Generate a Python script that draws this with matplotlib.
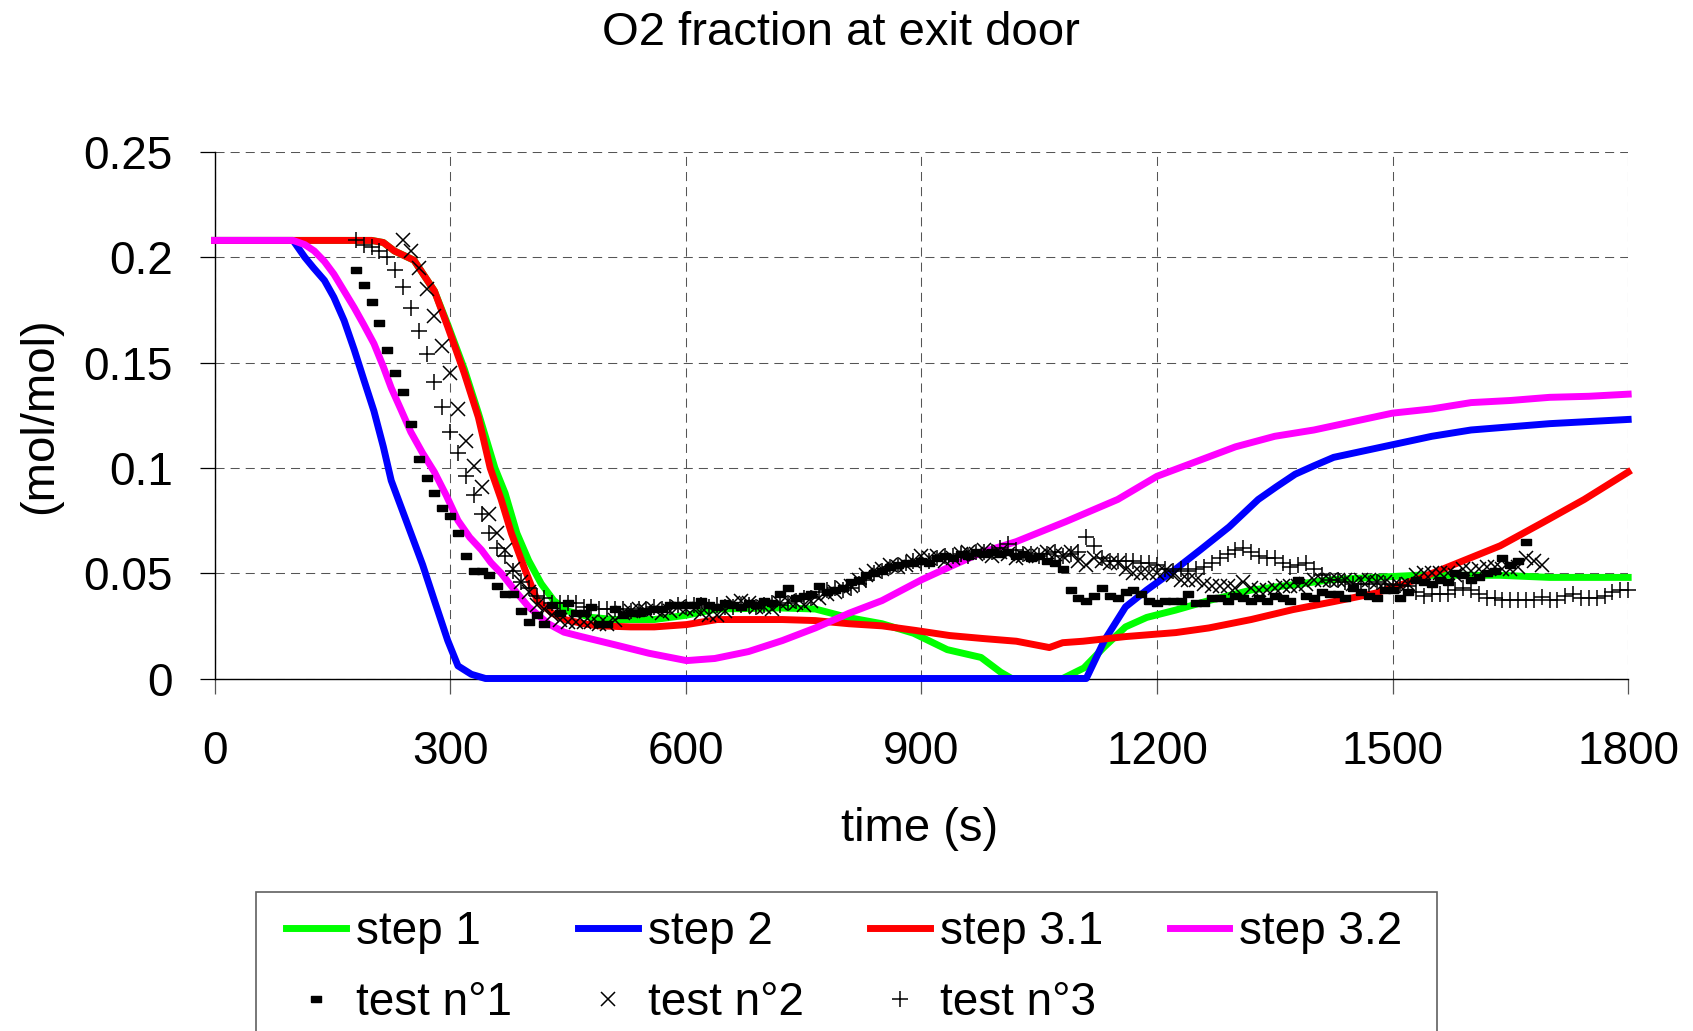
import numpy as np
import matplotlib
matplotlib.use("Agg")
import matplotlib.pyplot as plt
from matplotlib.patches import Rectangle

plt.rcParams['font.family'] = ['Liberation Sans', 'DejaVu Sans']

# --- simulated O2 fraction (mol/mol) for each calculation step ---
step1_t = [0, 100, 200, 215, 229, 254, 280, 297, 318, 336, 357, 370, 385, 400, 416, 432, 450,
           480, 510, 560, 600, 640, 720, 765, 806, 850, 890, 933, 976, 1001, 1015, 1080,
           1107, 1133, 1160, 1187, 1224, 1266, 1320, 1373, 1425, 1478, 1531, 1637, 1700, 1800]
step1_v = [0.208, 0.208, 0.208, 0.207, 0.203, 0.1986, 0.184, 0.168, 0.147, 0.126, 0.100, 0.088,
           0.069, 0.056, 0.045, 0.037, 0.032, 0.029, 0.028, 0.028, 0.030, 0.033, 0.0335,
           0.033, 0.029, 0.026, 0.0215, 0.0137, 0.010, 0.003, 0.0, 0.0, 0.005, 0.015,
           0.0245, 0.029, 0.0325, 0.037, 0.042, 0.0445, 0.047, 0.048, 0.049, 0.049,
           0.048, 0.048]

step2_t = [0, 100, 115, 126, 140, 152, 165, 178, 190, 203, 215, 225, 237, 250, 265, 280,
           297, 310, 327, 345, 1110, 1133, 1160, 1187, 1224, 1255, 1292, 1329, 1352, 1376,
           1400, 1425, 1450, 1500, 1550, 1600, 1700, 1800]
step2_v = [0.208, 0.208, 0.2, 0.195, 0.189, 0.181, 0.170, 0.156, 0.142, 0.127, 0.110,
           0.094, 0.082, 0.069, 0.054, 0.037, 0.018, 0.006, 0.002, 0.0, 0.0, 0.018,
           0.034, 0.042, 0.052, 0.061, 0.072, 0.085, 0.091, 0.097, 0.101, 0.105, 0.107,
           0.111, 0.115, 0.118, 0.121, 0.123]

step31_t = [0, 200, 215, 229, 254, 280, 297, 318, 336, 351, 365, 378, 395, 411, 430, 446,
            470, 489, 530, 560, 601, 640, 680, 723, 765, 808, 850, 893, 936, 978, 1021,
            1063, 1080, 1106, 1160, 1224, 1266, 1320, 1373, 1425, 1478, 1531, 1584, 1637,
            1691, 1744, 1800]
step31_v = [0.208, 0.208, 0.207, 0.203, 0.1986, 0.184, 0.167, 0.145, 0.124, 0.100, 0.085,
            0.069, 0.052, 0.037, 0.031, 0.028, 0.026, 0.025, 0.0245, 0.0245, 0.0256,
            0.028, 0.028, 0.028, 0.0275, 0.026, 0.025, 0.0228, 0.0204, 0.019, 0.0177,
            0.0147, 0.017, 0.0177, 0.0199, 0.0218, 0.024, 0.028, 0.0327, 0.0365, 0.0405,
            0.047, 0.055, 0.063, 0.074, 0.085, 0.098]

step32_t = [0, 100, 115, 127, 140, 152, 165, 178, 190, 203, 215, 225, 237, 250, 265, 280,
            295, 310, 325, 340, 352, 365, 382, 400, 425, 445, 467, 510, 553, 601, 637,
            680, 723, 765, 808, 850, 901, 936, 978, 1021, 1084, 1150, 1200, 1250, 1300,
            1350, 1400, 1450, 1500, 1550, 1600, 1650, 1700, 1750, 1800]
step32_v = [0.208, 0.208, 0.206, 0.203, 0.198, 0.192, 0.184, 0.176, 0.168, 0.159, 0.148,
            0.138, 0.128, 0.117, 0.107, 0.098, 0.087, 0.075, 0.067, 0.061, 0.055, 0.050,
            0.042, 0.034, 0.026, 0.022, 0.0199, 0.016, 0.012, 0.0085, 0.0095, 0.0128,
            0.018, 0.024, 0.031, 0.037, 0.047, 0.053, 0.060, 0.065, 0.0745, 0.085,
            0.096, 0.103, 0.110, 0.115, 0.118, 0.122, 0.126, 0.128, 0.131, 0.132,
            0.1335, 0.134, 0.135]

# --- measured O2 fraction, one reading every 10 s ---
test1_t = np.arange(180, 1680, 10)
test1_v = [0.194, 0.187, 0.179, 0.169, 0.156, 0.145, 0.136, 0.121, 0.104, 0.095,
           0.088, 0.081, 0.077, 0.069, 0.058, 0.051, 0.051, 0.049, 0.044, 0.040,
           0.040, 0.032, 0.027, 0.030, 0.026, 0.035, 0.031, 0.036, 0.031, 0.031,
           0.034, 0.026, 0.026, 0.033, 0.030, 0.031, 0.031, 0.032, 0.033, 0.033,
           0.035, 0.035, 0.035, 0.035, 0.037, 0.035, 0.034, 0.036, 0.035, 0.034,
           0.036, 0.035, 0.037, 0.036, 0.040, 0.043, 0.038, 0.039, 0.040, 0.044,
           0.041, 0.042, 0.043, 0.046, 0.047, 0.049, 0.050, 0.051, 0.053, 0.054,
           0.055, 0.055, 0.056, 0.055, 0.057, 0.058, 0.057, 0.059, 0.058, 0.060,
           0.059, 0.060, 0.059, 0.060, 0.058, 0.059, 0.057, 0.058, 0.056, 0.055,
           0.052, 0.042, 0.038, 0.037, 0.039, 0.043, 0.039, 0.038, 0.041, 0.042,
           0.040, 0.037, 0.036, 0.037, 0.037, 0.037, 0.040, 0.036, 0.036, 0.038,
           0.038, 0.037, 0.039, 0.038, 0.037, 0.038, 0.037, 0.039, 0.038, 0.037,
           0.047, 0.039, 0.038, 0.041, 0.040, 0.040, 0.038, 0.043, 0.041, 0.039,
           0.038, 0.042, 0.042, 0.038, 0.041, 0.047, 0.046, 0.045, 0.047, 0.046,
           0.050, 0.049, 0.047, 0.048, 0.050, 0.051, 0.057, 0.054, 0.056, 0.065]

test2_t = np.arange(240, 1700, 10)
test2_v = [0.208, 0.203, 0.195, 0.185, 0.172, 0.158, 0.145, 0.128, 0.113, 0.101,
           0.091, 0.078, 0.069, 0.061, 0.052, 0.046, 0.041, 0.035, 0.033, 0.030,
           0.028, 0.027, 0.027, 0.027, 0.027, 0.026, 0.026, 0.028, 0.031, 0.032,
           0.033, 0.032, 0.033, 0.031, 0.032, 0.034, 0.033, 0.033, 0.031, 0.030,
           0.030, 0.032, 0.036, 0.037, 0.036, 0.034, 0.034, 0.033, 0.036, 0.037,
           0.036, 0.035, 0.037, 0.038, 0.040, 0.041, 0.043, 0.044, 0.047, 0.049,
           0.051, 0.052, 0.054, 0.053, 0.054, 0.056, 0.058, 0.057, 0.058, 0.056,
           0.057, 0.059, 0.060, 0.059, 0.061, 0.058, 0.060, 0.059, 0.057, 0.058,
           0.059, 0.058, 0.060, 0.059, 0.058, 0.060, 0.056, 0.054, 0.057, 0.056,
           0.055, 0.055, 0.052, 0.050, 0.050, 0.050, 0.050, 0.051, 0.049, 0.047,
           0.047, 0.047, 0.045, 0.044, 0.044, 0.044, 0.043, 0.046, 0.043, 0.042,
           0.042, 0.043, 0.044, 0.044, 0.044, 0.045, 0.047, 0.047, 0.047, 0.047,
           0.047, 0.045, 0.047, 0.047, 0.046, 0.046, 0.044, 0.044, 0.045, 0.049,
           0.050, 0.050, 0.050, 0.050, 0.049, 0.052, 0.051, 0.052, 0.053, 0.053,
           0.052, 0.052, 0.053, 0.057, 0.056, 0.054]

test3_t = np.arange(180, 1810, 10)
test3_v = [0.208, 0.206, 0.205, 0.203, 0.200, 0.194, 0.186, 0.176, 0.165, 0.154,
           0.141, 0.129, 0.117, 0.107, 0.096, 0.087, 0.078, 0.069, 0.062, 0.058,
           0.051, 0.046, 0.043, 0.039, 0.038, 0.036, 0.036, 0.036, 0.036, 0.034,
           0.034, 0.033, 0.033, 0.033, 0.033, 0.032, 0.033, 0.033, 0.034, 0.033,
           0.034, 0.035, 0.034, 0.035, 0.035, 0.034, 0.035, 0.034, 0.034, 0.035,
           0.035, 0.034, 0.035, 0.036, 0.035, 0.036, 0.037, 0.038, 0.038, 0.041,
           0.042, 0.043, 0.042, 0.043, 0.045, 0.047, 0.050, 0.051, 0.053, 0.054,
           0.055, 0.056, 0.055, 0.056, 0.057, 0.058, 0.058, 0.059, 0.058, 0.060,
           0.060, 0.060, 0.062, 0.064, 0.061, 0.059, 0.059, 0.058, 0.059, 0.060,
           0.058, 0.059, 0.060, 0.067, 0.063, 0.057, 0.056, 0.056, 0.056, 0.056,
           0.055, 0.055, 0.054, 0.052, 0.051, 0.052, 0.051, 0.052, 0.053, 0.055,
           0.057, 0.059, 0.061, 0.062, 0.060, 0.058, 0.057, 0.057, 0.055, 0.053,
           0.054, 0.055, 0.052, 0.049, 0.047, 0.047, 0.046, 0.045, 0.045, 0.045,
           0.046, 0.045, 0.0445, 0.0445, 0.044, 0.041, 0.039, 0.040, 0.040, 0.040,
           0.042, 0.043, 0.042, 0.040, 0.038, 0.038, 0.0375, 0.0375, 0.0375, 0.0375,
           0.0375, 0.0385, 0.0375, 0.0375, 0.039, 0.040, 0.038, 0.038, 0.038, 0.039,
           0.041, 0.042, 0.042]

x_ticks = [0, 300, 600, 900, 1200, 1500, 1800]
y_ticks = [0, 0.05, 0.1, 0.15, 0.2, 0.25]

fig = plt.figure(figsize=(16.93, 10.31), dpi=100)
ax = fig.add_axes([0.1267, 0.3419, 0.8350, 0.5107])

lw = 5.0
l1, = ax.plot(step1_t, step1_v, color='#00FF00', lw=lw, clip_on=False, zorder=3)
l2, = ax.plot(step2_t, step2_v, color='#0000FF', lw=lw, clip_on=False, zorder=3)
l3, = ax.plot(step31_t, step31_v, color='#FF0000', lw=lw, clip_on=False, zorder=3)
l4, = ax.plot(step32_t, step32_v, color='#FF00FF', lw=lw, clip_on=False, zorder=3)

# flat rectangle marker for test 1
rect = [(-1, -0.55), (1, -0.55), (1, 0.55), (-1, 0.55), (-1, -0.55)]
m1, = ax.plot(test1_t, test1_v, ls='none', marker=rect, ms=7, color='black',
              clip_on=False, zorder=4)
m2, = ax.plot(test2_t, test2_v, ls='none', marker='x', ms=10.5, mew=1.1, color='black',
              clip_on=False, zorder=4)
m3, = ax.plot(test3_t, test3_v, ls='none', marker='+', ms=12, mew=1.1, color='black',
              clip_on=False, zorder=4)

ax.set_xlim(0, 1800)
ax.set_ylim(0, 0.25)
ax.set_xticks(x_ticks)
ax.set_yticks(y_ticks)
ax.set_yticklabels(['%g' % v for v in y_ticks])

for s in ['top', 'right']:
    ax.spines[s].set_visible(False)
for s in ['left', 'bottom']:
    ax.spines[s].set_linewidth(1.0)
ax.grid(True, color='#555555', ls=(0, (8.7, 5.8)), lw=0.75)
ax.set_axisbelow(True)
ax.tick_params(axis='y', direction='out', length=11, width=0.9, pad=19, labelsize=33)
ax.tick_params(axis='x', direction='out', length=11, width=0.9, color='#555555',
               pad=26, labelsize=33)

fig.text(0.497, 0.968, 'O2 fraction at exit door', ha='center', va='center', fontsize=34)
fig.text(0.5434, 0.196, 'time (s)', ha='center', va='center', fontsize=34)
fig.text(0.0236, 0.5965, '(mol/mol)', ha='center', va='center', rotation=90, fontsize=34)

# legend frame runs off the bottom edge of the figure
fig.patches.append(Rectangle((256 / 1693, -0.05), (1437 - 256) / 1693, 0.05 + 0.1348,
                             transform=fig.transFigure, fill=False,
                             edgecolor='#606060', lw=1.2))

handles = [l1, m1, l2, m2, l3, m3, l4]
labels = ['step 1', 'test n°1', 'step 2', 'test n°2', 'step 3.1', 'test n°3', 'step 3.2']
leg = fig.legend(handles, labels, ncol=4, loc='upper left',
                 bbox_to_anchor=(0.1595, 0.1329), fontsize=33, frameon=False,
                 borderpad=0.35, labelspacing=0.59, handlelength=1.3,
                 handletextpad=0.22, columnspacing=1.45, borderaxespad=0)

fig.savefig('out.png', dpi=100)
